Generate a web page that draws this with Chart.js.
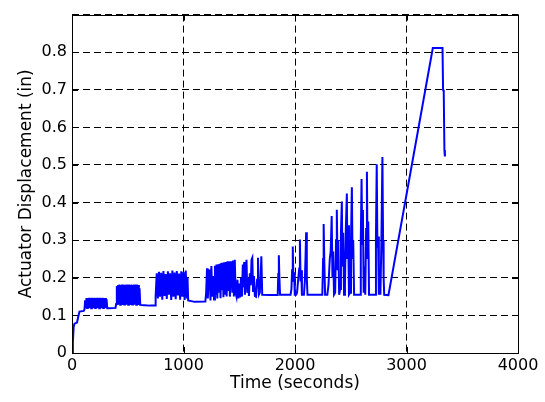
<!DOCTYPE html>
<html>
<head>
<meta charset="utf-8">
<script src="https://cdn.jsdelivr.net/npm/chart.js@4.4.1/dist/chart.umd.min.js"></script>
<style>
  html, body { margin: 0; padding: 0; background: #fff; }
  canvas { display: block; }
</style>
</head>
<body>
<canvas id="dispChart" width="545" height="402"></canvas>
<script>
// Actuator displacement history (time in s, displacement in inches)
const timeSec = [
    0, 8, 15, 22, 45, 55, 67, 105, 112,
    // cycles around 0.12-0.146
    118, 124, 130, 136, 142, 148, 154, 160, 166, 172, 178, 184, 190, 196, 202, 208, 214, 220,
    226, 232, 238, 244, 250, 256, 262, 268, 274, 280, 286, 292, 298, 304, 310, 316,
    330, 390,
    // cycles around 0.13-0.18
    396, 402, 408, 414, 420, 426, 432, 438, 444, 450, 456, 462, 468, 474, 480, 486, 492, 498,
    504, 510, 516, 522, 528, 534, 540, 546, 552, 558, 564, 570, 576, 582, 588, 594, 600, 606, 612,
    650, 700, 745,
    // cycles around 0.15-0.22
    750, 760, 770, 780, 790, 800, 810, 820, 830, 840, 850, 860, 870, 880, 890, 900, 910, 920,
    930, 940, 950, 960, 970, 980, 990, 1000, 1010, 1020, 1030, 1036, 1042,
    1100, 1190,
    // spikes 1200-1700
    1196, 1203, 1211, 1218, 1226, 1235, 1242, 1250, 1258, 1266, 1274, 1282, 1290, 1296, 1303,
    1310, 1318, 1325, 1332, 1340, 1346, 1352, 1358, 1365, 1372, 1380, 1387, 1394, 1401, 1409,
    1416, 1424, 1431, 1438, 1444, 1452, 1460, 1467, 1475, 1484, 1492, 1500, 1508, 1516, 1524,
    1532, 1538, 1544, 1551, 1558, 1565, 1572, 1580, 1587, 1595, 1603, 1610, 1617, 1624, 1632,
    1640, 1650, 1660, 1668, 1676, 1684, 1692, 1698, 1706,
    1780, 1845, 1850, 1855, 1860, 1866, 1960,
    1968, 1974, 1980, 1986, 1992, 1998, 2010, 2018, 2030, 2038, 2044, 2050, 2056, 2062,
    2080, 2088, 2094, 2100, 2106, 2112,
    2245, 2252, 2257, 2263, 2270, 2290, 2300, 2312, 2320, 2329, 2336, 2342, 2350, 2360,
    2368, 2375, 2382, 2388, 2396, 2405, 2412, 2420, 2426, 2432, 2440, 2448, 2456, 2465,
    2470, 2476, 2484, 2494, 2502, 2510, 2516, 2522, 2530, 2585, 2590, 2597, 2603, 2609,
    2616, 2624, 2630, 2638, 2645, 2651, 2657, 2664, 2720, 2726, 2733, 2739, 2745, 2752,
    2760, 2766, 2775, 2784, 2790, 2795, 2800, 2838,
    // final ramp
    3236, 3323, 3328, 3334, 3340, 3344, 3346
];

const dispIn = [
    0, 0.03, 0.07, 0.078, 0.081, 0.095, 0.110, 0.112, 0.116,
    0.140, 0.119, 0.146, 0.120, 0.146, 0.119, 0.147, 0.120, 0.146, 0.119, 0.147, 0.120, 0.146, 0.119, 0.147, 0.120, 0.146, 0.119,
    0.147, 0.120, 0.146, 0.119, 0.147, 0.120, 0.146, 0.119, 0.147, 0.120, 0.146, 0.119, 0.146, 0.120, 0.143, 0.119,
    0.119, 0.120,
    0.130, 0.178, 0.128, 0.181, 0.129, 0.182, 0.128, 0.181, 0.129, 0.182, 0.128, 0.182, 0.129, 0.181, 0.128, 0.182, 0.129, 0.181,
    0.128, 0.182, 0.129, 0.181, 0.128, 0.182, 0.129, 0.181, 0.128, 0.182, 0.129, 0.181, 0.128, 0.182, 0.129, 0.181, 0.128, 0.172, 0.128,
    0.127, 0.126, 0.126,
    0.150, 0.212, 0.145, 0.216, 0.150, 0.213, 0.142, 0.218, 0.152, 0.210, 0.144, 0.217, 0.155, 0.212, 0.141, 0.219, 0.150, 0.214,
    0.143, 0.218, 0.153, 0.211, 0.142, 0.217, 0.150, 0.215, 0.141, 0.219, 0.145, 0.200, 0.140,
    0.136, 0.137,
    0.137, 0.160, 0.225, 0.145, 0.200, 0.222, 0.140, 0.231, 0.150, 0.205, 0.142, 0.232, 0.155, 0.235, 0.145,
    0.236, 0.160, 0.237, 0.146, 0.240, 0.170, 0.240, 0.148, 0.241, 0.155, 0.242, 0.150, 0.244, 0.165, 0.244,
    0.150, 0.215, 0.244, 0.160, 0.246, 0.150, 0.248, 0.160, 0.150, 0.195, 0.145, 0.185, 0.148, 0.200, 0.150,
    0.235, 0.175, 0.242, 0.155, 0.210, 0.248, 0.160, 0.200, 0.152, 0.212, 0.180, 0.248, 0.253, 0.165, 0.205,
    0.152, 0.150, 0.195, 0.253, 0.155, 0.160, 0.200, 0.257, 0.155,
    0.154, 0.154, 0.210, 0.260, 0.200, 0.155, 0.155,
    0.170, 0.220, 0.283, 0.190, 0.215, 0.155, 0.155, 0.160, 0.200, 0.225, 0.302, 0.190, 0.220, 0.155,
    0.155, 0.190, 0.250, 0.321, 0.200, 0.155,
    0.155, 0.250, 0.343, 0.240, 0.155, 0.155, 0.180, 0.250, 0.270, 0.364, 0.200, 0.270, 0.155, 0.160,
    0.300, 0.381, 0.220, 0.300, 0.155, 0.170, 0.320, 0.403, 0.230, 0.320, 0.155, 0.180, 0.330, 0.424,
    0.250, 0.340, 0.155, 0.160, 0.300, 0.441, 0.250, 0.300, 0.155, 0.155, 0.300, 0.463, 0.290, 0.380,
    0.160, 0.230, 0.155, 0.330, 0.482, 0.250, 0.350, 0.155, 0.155, 0.310, 0.502, 0.280, 0.310, 0.155,
    0.200, 0.155, 0.300, 0.521, 0.300, 0.200, 0.155, 0.154,
    0.811, 0.811, 0.700, 0.695, 0.540, 0.523, 0.530
];

const xTicks = [0, 1000, 2000, 3000, 4000];
const yTicks = [0, 0.1, 0.2, 0.3, 0.4, 0.5, 0.6, 0.7, 0.8, 0.9];

const points = timeSec.map((t, i) => ({ x: t, y: dispIn[i] }));

const FONT = 'DejaVu Sans';

// MATLAB style box with inward tick marks
const boxPlugin = {
    id: 'box',
    afterDraw(chart) {
        const { ctx, chartArea: a, scales } = chart;
        ctx.save();
        ctx.strokeStyle = '#000';
        ctx.lineWidth = 1;
        ctx.setLineDash([]);
        ctx.beginPath();
        xTicks.forEach(v => {
            const px = Math.round(scales.x.getPixelForValue(v)) + 0.5;
            ctx.moveTo(px, a.bottom); ctx.lineTo(px, a.bottom - 6);
            ctx.moveTo(px, a.top); ctx.lineTo(px, a.top + 6);
        });
        yTicks.forEach(v => {
            const py = Math.round(scales.y.getPixelForValue(v)) + 0.5;
            ctx.moveTo(a.left, py); ctx.lineTo(a.left + 6, py);
            ctx.moveTo(a.right, py); ctx.lineTo(a.right - 6, py);
        });
        ctx.stroke();
        ctx.strokeRect(Math.round(a.left) + 0.5, Math.round(a.top) + 0.5,
            Math.round(a.right - a.left), Math.round(a.bottom - a.top));
        ctx.restore();
    }
};

const ctx = document.getElementById('dispChart').getContext('2d');
const chart = new Chart(ctx, {
    type: 'line',
    data: {
        datasets: [{
            data: points,
            borderColor: '#0000ff',
            borderWidth: 2,
            pointRadius: 0,
            fill: false,
            tension: 0
        }]
    },
    options: {
        responsive: false,
        animation: false,
        layout: { padding: { top: 5, right: 27, left: 0, bottom: 0 } },
        plugins: { legend: { display: false }, tooltip: { enabled: false } },
        scales: {
            x: {
                type: 'linear',
                min: 0,
                max: 4000,
                afterBuildTicks: s => { s.ticks = xTicks.map(v => ({ value: v })); },
                afterFit: s => { s.height = 49; },
                ticks: {
                    color: '#000',
                    padding: 3,
                    maxRotation: 0,
                    font: { family: FONT, size: 16 },
                    callback: v => String(v)
                },
                grid: { color: '#000', lineWidth: 1, drawTicks: false },
                border: { display: false, dash: [7, 4] },
                title: {
                    display: true,
                    text: 'Time (seconds)',
                    color: '#000',
                    font: { family: FONT, size: 17 },
                    padding: { top: 0, bottom: 8 }
                }
            },
            y: {
                type: 'linear',
                min: 0,
                max: 0.9,
                afterBuildTicks: s => { s.ticks = yTicks.map(v => ({ value: v })); },
                afterFit: s => { s.width = 72; },
                ticks: {
                    color: '#000',
                    padding: 5,
                    font: { family: FONT, size: 16 },
                    callback: v => (v === 0 ? '0' : (v > 0.85 ? '' : v.toFixed(1)))
                },
                grid: { color: '#000', lineWidth: 1, drawTicks: false },
                border: { display: false, dash: [7, 4] },
                title: {
                    display: true,
                    text: 'Actuator Displacement (in)',
                    color: '#000',
                    font: { family: FONT, size: 17 },
                    padding: { top: 16, bottom: 0 }
                }
            }
        }
    },
    plugins: [boxPlugin]
});
</script>
</body>
</html>
